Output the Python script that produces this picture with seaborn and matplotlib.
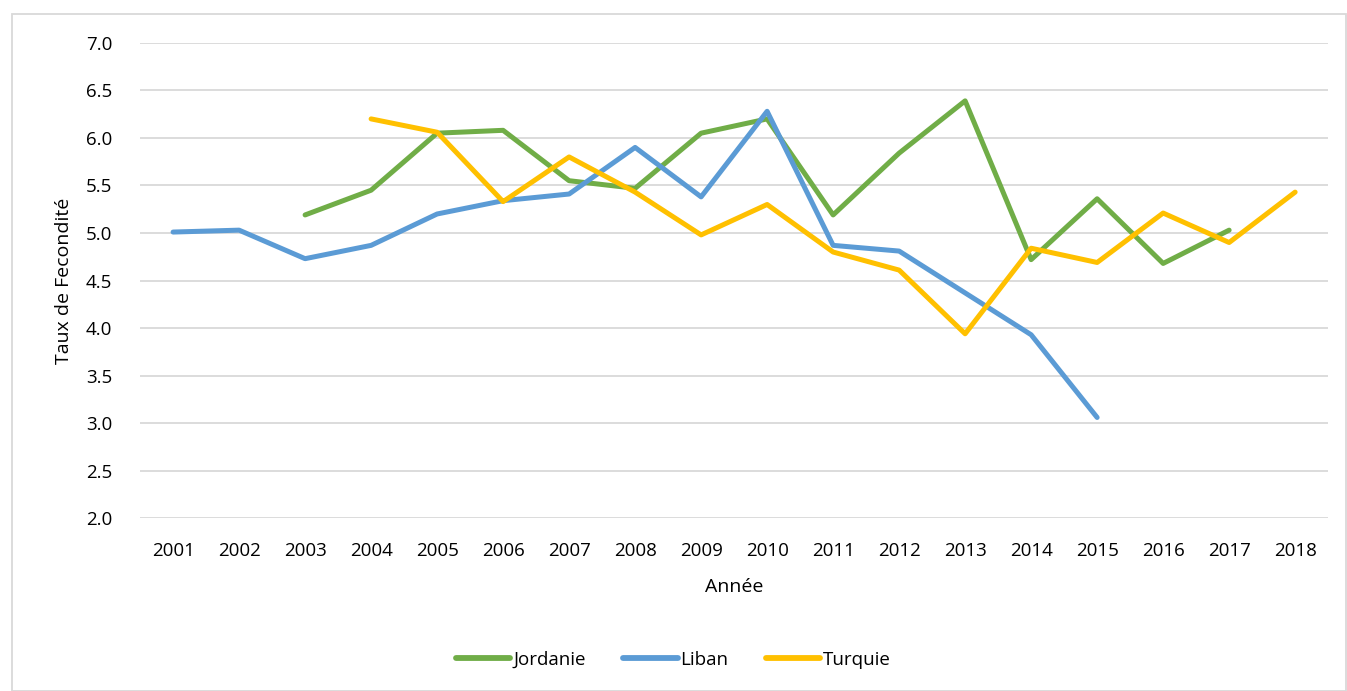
import numpy as np
import pandas as pd
import matplotlib
matplotlib.use("Agg")
import matplotlib.pyplot as plt
import seaborn as sns

# Values
annees = list(range(2001, 2019))
jordanie = [np.nan, np.nan, 5.19, 5.45, 6.05, 6.08, 5.55, 5.47, 6.05, 6.20,
            5.19, 5.84, 6.39, 4.72, 5.36, 4.68, 5.03, np.nan]
liban = [5.01, 5.03, 4.73, 4.87, 5.20, 5.34, 5.41, 5.90, 5.38, 6.28,
         4.87, 4.81, 4.37, 3.93, 3.06, np.nan, np.nan, np.nan]
turquie = [np.nan, np.nan, np.nan, 6.20, 6.06, 5.33, 5.80, 5.43, 4.98, 5.30,
           4.80, 4.61, 3.94, 4.84, 4.69, 5.21, 4.90, 5.43]

pays = ["Jordanie", "Liban", "Turquie"]
couleurs = {"Jordanie": "#70AD47", "Liban": "#5B9BD5", "Turquie": "#FFC000"}

df = pd.DataFrame({"Année": annees, "Jordanie": jordanie, "Liban": liban, "Turquie": turquie})
df_long = df.melt(id_vars="Année", var_name="Pays", value_name="Taux").dropna()

sns.set_theme(style="white")
plt.rcParams['font.family'] = ['Open Sans', 'DejaVu Sans']
plt.rcParams['text.color'] = 'black'
plt.rcParams['axes.labelcolor'] = 'black'

fig = plt.figure(figsize=(13.47, 6.91), dpi=100)
ax = fig.add_axes([0.104, 0.250, 0.882, 0.688])

sns.lineplot(data=df_long, x="Année", y="Taux", hue="Pays", hue_order=pays,
             palette=couleurs, linewidth=3.6, ax=ax, legend=False)
for l in ax.lines:
    l.set_solid_capstyle("round")
    l.set_solid_joinstyle("round")

ax.set_xlim(2000.5, 2018.5)
ax.set_ylim(2.0, 7.0)
ax.set_yticks(np.arange(2.0, 7.01, 0.5))
ax.set_yticklabels([f"{v:.1f}" for v in np.arange(2.0, 7.01, 0.5)])
ax.set_xticks(annees)
ax.set_xticklabels([str(a) for a in annees])
ax.yaxis.grid(True, color="#D9D9D9", linewidth=1.3)
ax.set_axisbelow(True)
for s in ["top", "right", "left", "bottom"]:
    ax.spines[s].set_visible(False)
ax.tick_params(axis="both", length=0, labelsize=13.5, colors="black")
ax.tick_params(axis="y", pad=20)
ax.tick_params(axis="x", pad=17)

ax.set_xlabel("Année", fontsize=14, labelpad=13)
ax.set_ylabel("Taux de Fecondité", fontsize=14, labelpad=9)

handles = [plt.Line2D([0], [0], color=couleurs[p], linewidth=4.2, solid_capstyle="round") for p in pays]
fig.legend(handles, pays, loc="center", bbox_to_anchor=(0.5, 0.045), ncol=3, frameon=False,
           fontsize=13.5, handlelength=2.9, handletextpad=0.15, columnspacing=2.0)

# outer chart border
fig.patches.append(plt.Rectangle((0.009, 0.0), 0.99, 0.98, transform=fig.transFigure,
                                 fill=False, edgecolor="#D9D9D9", linewidth=1.3))

fig.savefig("out.png", dpi=100)
